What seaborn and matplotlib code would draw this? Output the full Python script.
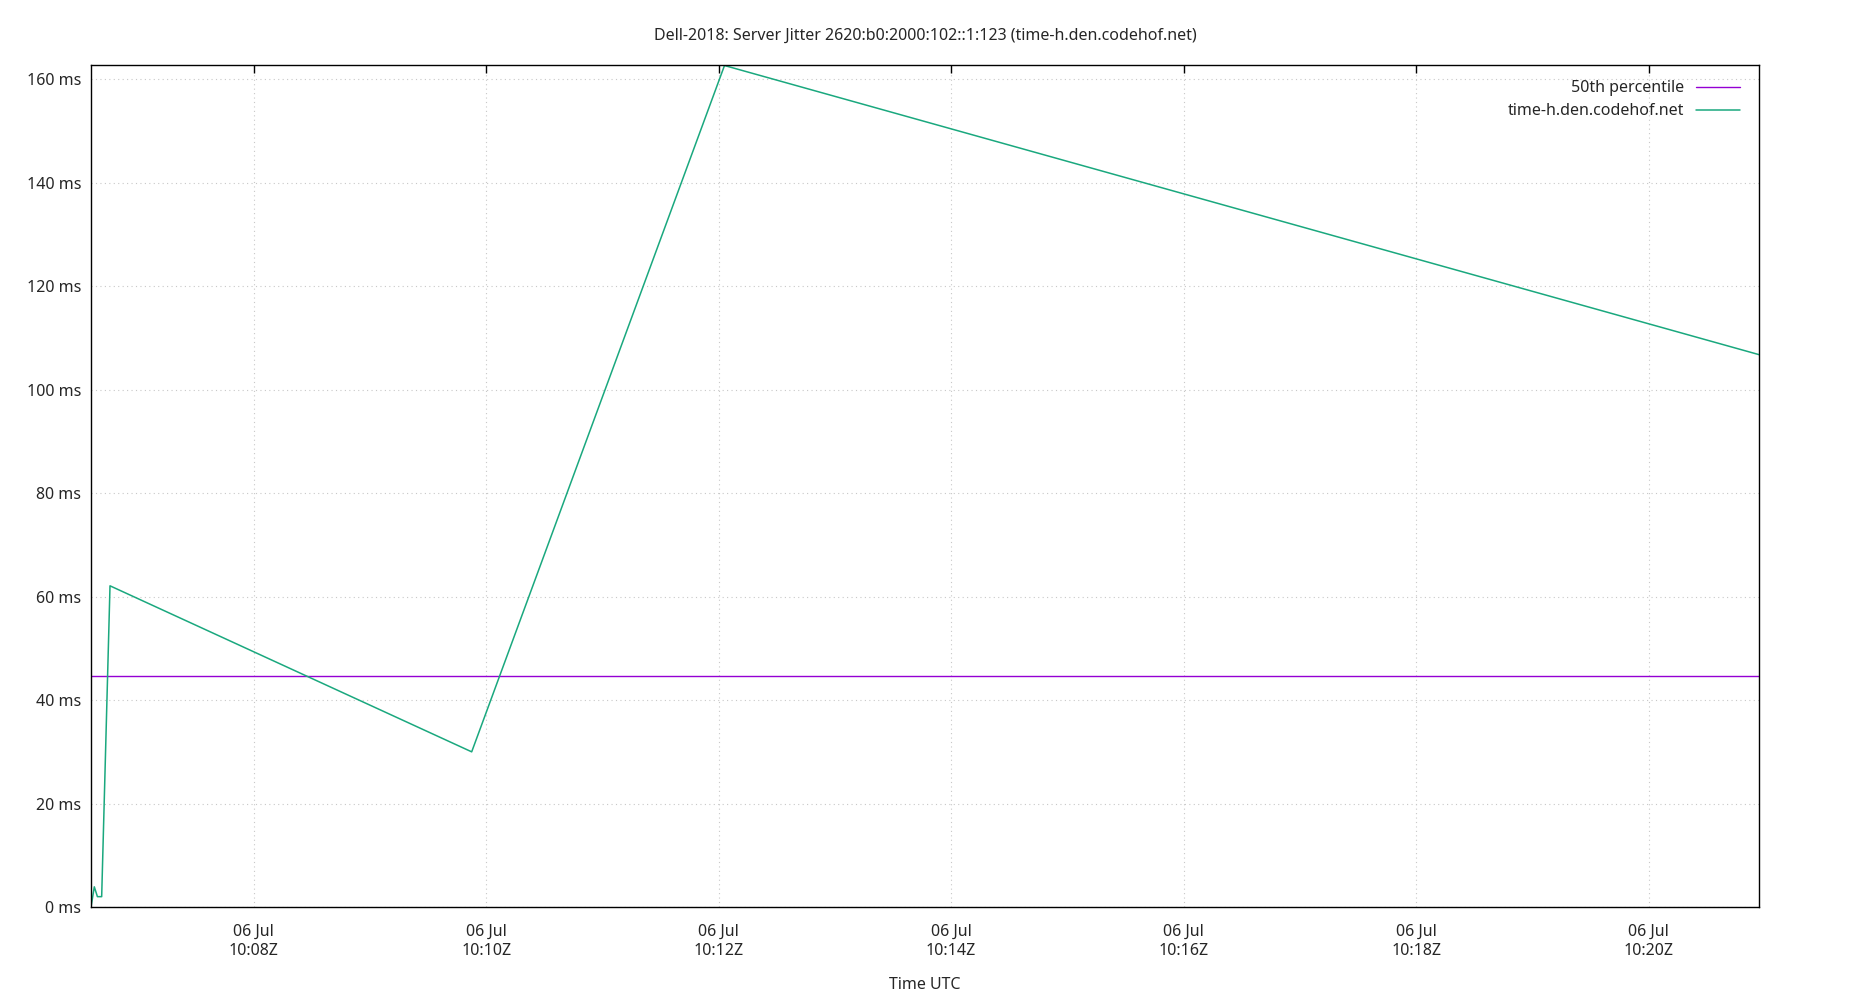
import pandas as pd
import numpy as np
import matplotlib
matplotlib.use("Agg")
import matplotlib.pyplot as plt
import matplotlib.dates as mdates
import seaborn as sns

# values
times = ["2018-07-06 10:06:36.0", "2018-07-06 10:06:37.7", "2018-07-06 10:06:39.3",
         "2018-07-06 10:06:41.5", "2018-07-06 10:06:45.8", "2018-07-06 10:09:52.5",
         "2018-07-06 10:12:03.0", "2018-07-06 10:20:57.0"]
jitter_ms = [0.0, 3.9, 2.0, 2.0, 62.1, 30.0, 162.7, 106.8]
median_ms = 44.7
series_name = "time-h.den.codehof.net"
median_name = "50th percentile"
y_ticks = [0, 20, 40, 60, 80, 100, 120, 140, 160]

df = pd.DataFrame({"time": pd.to_datetime(times), "jitter": jitter_ms})

sns.set_theme(style="white")
plt.rcParams["font.family"] = ["Noto Sans", "DejaVu Sans"]

fs = 11.5

fig, ax = plt.subplots(figsize=(18.5, 10), dpi=100)
fig.subplots_adjust(left=0.0492, right=0.9508, top=0.935, bottom=0.093)

ax.axhline(median_ms, color="#9400d3", linewidth=1, label=median_name)
sns.lineplot(data=df, x="time", y="jitter", ax=ax, color="#1aa87e",
             linewidth=1.1, label=series_name)

ax.set_xlim(df["time"].iloc[0], df["time"].iloc[-1])
ax.set_ylim(0, 162.8)
ax.set_yticks(y_ticks)
ax.set_yticklabels([f"{v} ms" for v in y_ticks])

ax.xaxis.set_major_locator(mdates.MinuteLocator(byminute=range(0, 60, 2)))
ax.xaxis.set_major_formatter(mdates.DateFormatter("%d %b\n%H:%MZ"))

ax.grid(True, color="#c8c8c8", linestyle=(0, (1, 3)), linewidth=0.8)
for s in ax.spines.values():
    s.set_color("black")
    s.set_linewidth(1)
ax.tick_params(direction="in", length=6, width=1, color="black",
               top=True, right=False, labelsize=fs)
ax.tick_params(axis="x", pad=12)
ax.tick_params(axis="y", pad=7)
for lab in ax.get_xticklabels():
    lab.set_horizontalalignment("center")
    lab.set_linespacing(1.3)

ax.set_title("Dell-2018: Server Jitter 2620:b0:2000:102::1:123 (time-h.den.codehof.net)",
             fontsize=fs, pad=18)
ax.set_xlabel("Time UTC", fontsize=fs, labelpad=13)
ax.set_ylabel("")

leg = ax.legend(loc="upper right", bbox_to_anchor=(0.997, 0.999), frameon=False,
                markerfirst=False, fontsize=fs, handlelength=2.7,
                borderaxespad=0.5, labelspacing=0.45)
for t in leg.get_texts():
    t.set_horizontalalignment("right")

fig.savefig("out.png", dpi=100)
plt.close()
